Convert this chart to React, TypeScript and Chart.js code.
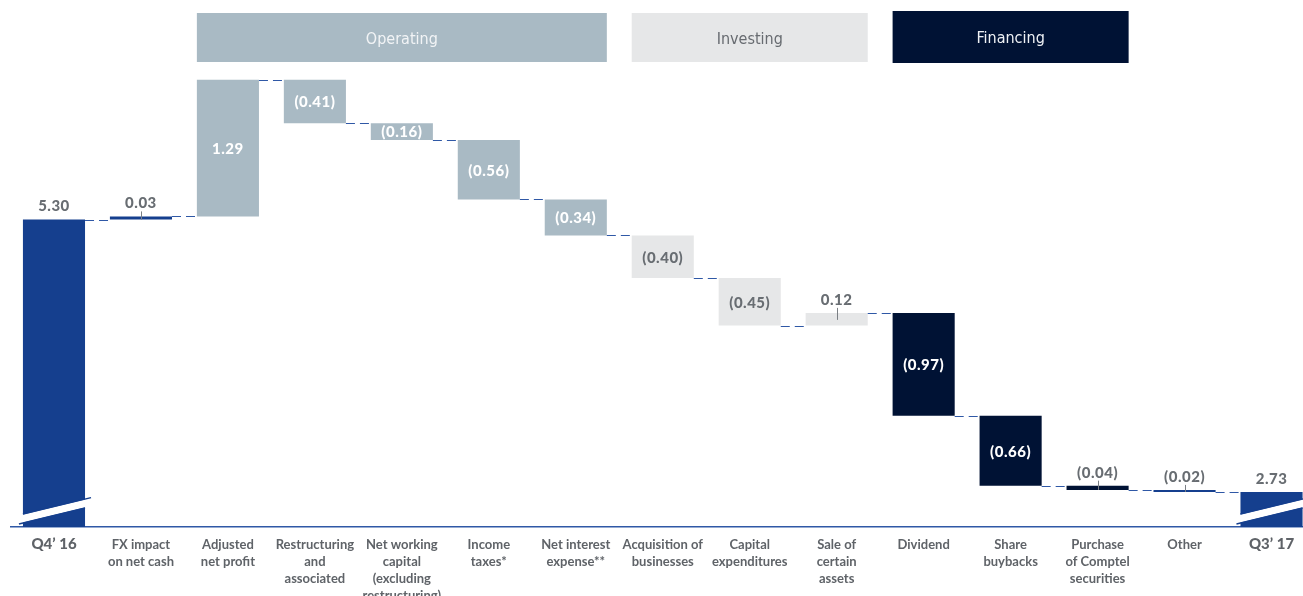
import React, { useEffect, useRef } from "react";
import { Chart, registerables } from "chart.js";

Chart.register(...registerables);

const categories: string[][] = [
  ["Q4’ 16"],
  ["FX impact", "on net cash"],
  ["Adjusted", "net profit"],
  ["Restructuring", "and", "associated"],
  ["Net working", "capital", "(excluding", "restructuring)"],
  ["Income", "taxes*"],
  ["Net interest", "expense**"],
  ["Acquisition of", "businesses"],
  ["Capital", "expenditures"],
  ["Sale of", "certain", "assets"],
  ["Dividend"],
  ["Share", "buybacks"],
  ["Purchase", "of Comptel", "securities"],
  ["Other"],
  ["Q3’ 17"],
];

// first and last are totals; others are changes
const values: number[] = [5.3, 0.03, 1.29, -0.41, -0.16, -0.56, -0.34, -0.4, -0.45, 0.12, -0.97, -0.66, -0.04, -0.02, 2.73];
const groups: string[] = ["total", "fx", "op", "op", "op", "op", "op", "inv", "inv", "inv", "fin", "fin", "fin", "other", "total"];

const headerNames: string[] = ["Operating", "Investing", "Financing"];
const headerSpans: number[][] = [[2, 6], [7, 9], [10, 12]];

const AXIS_MIN = 2.4;
const AXIS_MAX = 7.0;

const BLUE = "#153f8e";
const OP = "#a9bac4";
const INV = "#e6e7e8";
const FIN = "#001234";
const LINE_BLUE = "#2f58a6";
const GREY_TEXT = "#686d72";

const groupColor: Record<string, string> = { total: BLUE, fx: BLUE, other: BLUE, op: OP, inv: INV, fin: FIN };
const headerFill: string[] = [OP, INV, FIN];
const headerText: string[] = ["#f2f4f6", "#676b70", "#eef1f5"];

function buildRanges() {
  const ranges: number[][] = [];
  const levels: number[] = [];
  let cum = 0;
  values.forEach((v, i) => {
    if (groups[i] === "total") {
      ranges.push([AXIS_MIN, v]);
      cum = v;
    } else {
      ranges.push([cum, cum + v]);
      cum = cum + v;
    }
    levels.push(cum);
  });
  return { ranges, levels };
}

function fmt(v: number) {
  const s = Math.abs(v).toFixed(2);
  return v < 0 ? `(${s})` : s;
}

export default function App() {
  const ref = useRef<HTMLCanvasElement>(null);
  useEffect(() => {
    if (!ref.current) return;
    const { ranges, levels } = buildRanges();

    const overlay = {
      id: "overlay",
      afterDatasetsDraw(chart: any) {
        const ctx = chart.ctx;
        const meta = chart.getDatasetMeta(0);
        const bars = meta.data;
        const ys = chart.scales.y;
        ctx.save();
        // connectors
        ctx.strokeStyle = LINE_BLUE;
        ctx.lineWidth = 1.2;
        ctx.setLineDash([9, 5]);
        for (let i = 0; i < bars.length - 1; i++) {
          const a = bars[i];
          const b = bars[i + 1];
          const y = Math.round(ys.getPixelForValue(levels[i])) + 0.5;
          ctx.beginPath();
          ctx.moveTo(a.x + a.width / 2, y);
          ctx.lineTo(b.x - b.width / 2, y);
          ctx.stroke();
        }
        ctx.setLineDash([]);

        // axis break slashes on total bars
        [0, bars.length - 1].forEach((i) => {
          const b = bars[i];
          const l = b.x - b.width / 2;
          const r = b.x + b.width / 2;
          const cy = chart.chartArea.bottom - 16;
          const slope = 0.24;
          const yAt = (x: number, off: number) => cy - (x - b.x) * slope + off;
          const l2 = l - 4;
          const r2 = r + 6;
          ctx.fillStyle = "#ffffff";
          ctx.beginPath();
          ctx.moveTo(l2, yAt(l2, 4));
          ctx.lineTo(r2, yAt(r2, 4));
          ctx.lineTo(r2, yAt(r2, -4));
          ctx.lineTo(l2, yAt(l2, -4));
          ctx.closePath();
          ctx.fill();
          ctx.strokeStyle = BLUE;
          ctx.lineWidth = 1.5;
          ctx.beginPath();
          ctx.moveTo(l2, yAt(l2, 4.5));
          ctx.lineTo(r, yAt(r, 4.5));
          ctx.stroke();
          ctx.beginPath();
          ctx.moveTo(l, yAt(l, -4.5));
          ctx.lineTo(r2, yAt(r2, -4.5));
          ctx.stroke();
        });

        // value labels
        ctx.textAlign = "center";
        ctx.textBaseline = "middle";
        (ctx as any).letterSpacing = "0.5px";
        ctx.font = "900 15px Lato, 'Open Sans', sans-serif";
        bars.forEach((b: any, i: number) => {
          const top = Math.min(b.y, b.base);
          const bottom = Math.max(b.y, b.base);
          const v = values[i];
          const g = groups[i];
          const inside = g !== "total" && Math.abs(v) >= 0.15;
          if (inside) {
            ctx.fillStyle = g === "inv" ? GREY_TEXT : "#ffffff";
            ctx.fillText(fmt(v), b.x, (top + bottom) / 2 + 1);
          } else {
            ctx.fillStyle = GREY_TEXT;
            ctx.fillText(fmt(v), b.x, top - 13);
            if (g !== "total") {
              ctx.strokeStyle = "#7a7f84";
              ctx.lineWidth = 1;
              ctx.beginPath();
              ctx.moveTo(Math.round(b.x) + 0.5, top - 5);
              ctx.lineTo(Math.round(b.x) + 0.5, Math.min(bottom, top + 7));
              ctx.stroke();
            }
          }
        });

        // header boxes
        (ctx as any).letterSpacing = "0px";
        headerSpans.forEach((span, k) => {
          const a = bars[span[0]];
          const z = bars[span[1]];
          const x0 = a.x - a.width / 2;
          const x1 = z.x + z.width / 2;
          const y0 = k === 2 ? 11 : 13;
          const y1 = k === 2 ? 63 : 62;
          ctx.fillStyle = headerFill[k];
          ctx.fillRect(x0, y0, x1 - x0, y1 - y0);
          ctx.fillStyle = headerText[k];
          ctx.font = "16px 'Liberation Sans Narrow', 'DejaVu Sans Condensed', Lato, sans-serif";
          ctx.fillText(headerNames[k], (x0 + x1) / 2, (y0 + y1) / 2 + 2);
        });
        ctx.restore();
      },
    };

    const chart = new Chart(ref.current, {
      type: "bar",
      data: {
        labels: categories,
        datasets: [
          {
            data: ranges as any,
            backgroundColor: groups.map((g) => groupColor[g]),
            borderWidth: 0,
            barPercentage: 0.714,
            categoryPercentage: 1,
            borderSkipped: false,
          },
        ],
      },
      options: {
        responsive: false,
        animation: false,
        layout: { padding: { left: 10.5, right: 5, top: 39.4, bottom: 0 } },
        plugins: { legend: { display: false }, tooltip: { enabled: false }, title: { display: false } },
        scales: {
          y: { display: false, min: AXIS_MIN, max: AXIS_MAX },
          x: {
            grid: { display: true, color: "rgba(0,0,0,0)", drawTicks: false },
            border: { display: true, color: LINE_BLUE, width: 1.5 },
            ticks: {
              autoSkip: false,
              maxRotation: 0,
              minRotation: 0,
              padding: 9,
              color: "#5f6368",
              font: ((c: any) => {
                const big = c.index === 0 || c.index === categories.length - 1;
                return { family: "Lato, 'Open Sans', sans-serif", size: big ? 15 : 13, weight: big ? "900" : "bold", lineHeight: "17px" };
              }) as any,
            },
            afterFit: (axis: any) => {
              axis.height = 69;
            },
          },
        },
      },
      plugins: [overlay],
    });
    return () => chart.destroy();
  }, []);

  return (
    <div style={{ position: "fixed", left: 0, top: 0, width: 1303, height: 596, overflow: "hidden", background: "#fff" }}>
      <canvas ref={ref} width={1320} height={596} style={{ display: "block" }} />
    </div>
  );
}
